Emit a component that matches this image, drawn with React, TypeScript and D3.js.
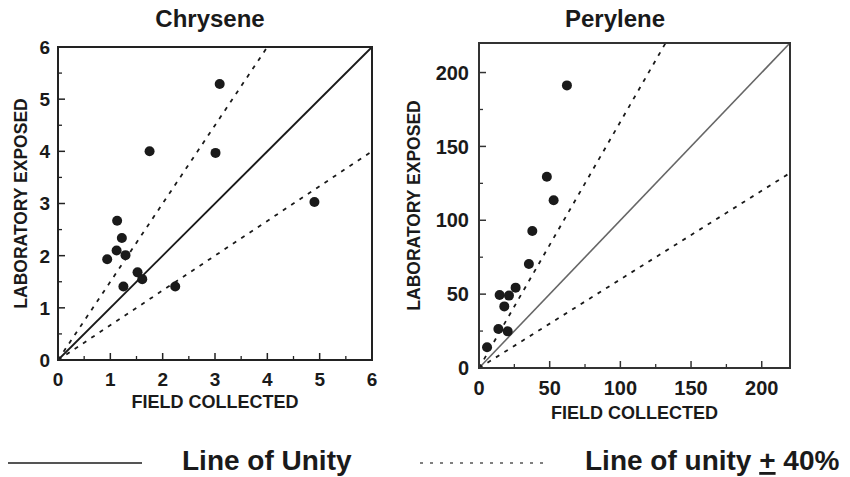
import React from "react";
import * as d3 from "d3";

// ---------- data ----------
const chryseneField = [3.09, 1.75, 3.01, 4.9, 1.13, 1.22, 1.12, 1.29, 0.94, 1.52, 1.61, 1.25, 2.24];
const chryseneLab = [5.29, 4.0, 3.97, 3.03, 2.67, 2.34, 2.1, 2.01, 1.93, 1.68, 1.55, 1.41, 1.41];
const chryseneTicks = [0, 1, 2, 3, 4, 5, 6];
const chryseneMinor = [0.5, 1.5, 2.5, 3.5, 4.5, 5.5];
const chryseneSlopes = [1.5, 1 / 1.5];

const peryleneField = [62.2, 48.0, 52.8, 37.7, 35.3, 25.9, 14.6, 21.2, 17.9, 13.7, 20.3, 5.7];
const peryleneLab = [191.3, 129.5, 113.5, 92.7, 70.4, 54.4, 49.4, 49.0, 41.7, 26.4, 24.8, 14.0];
const peryleneTicks = [0, 50, 100, 150, 200];
const peryleneMinor = [25, 75, 125, 175];
const peryleneSlopes = [1 / 0.6, 0.6];

const FONT = "'Liberation Sans', Arial, Helvetica, sans-serif";

type PanelProps = {
  title: string;
  xs: number[];
  ys: number[];
  max: number;
  ticks: number[];
  minor: number[];
  slopes: number[];
  left: number;
  right: number;
  top: number;
  bottom: number;
  tickFont: number;
  xLabelY: number;
  yLabelGap: number;
  xTitleY: number;
  yTitleX: number;
  titleX: number;
  unityColor: string;
  unityWidth: number;
  frameColor: string;
};

function Panel(p: PanelProps) {
  const x = d3.scaleLinear().domain([0, p.max]).range([p.left, p.right]);
  const y = d3.scaleLinear().domain([0, p.max]).range([p.bottom, p.top]);
  const line = d3
    .line<[number, number]>()
    .x((d) => x(d[0]))
    .y((d) => y(d[1]));
  const [kUp, kLow] = p.slopes;
  const unity: [number, number][] = [
    [0, 0],
    [p.max, p.max],
  ];
  const upper: [number, number][] = [
    [0, 0],
    [p.max / kUp, p.max],
  ];
  const lower: [number, number][] = [
    [0, 0],
    [p.max, p.max * kLow],
  ];
  const midY = (p.top + p.bottom) / 2;
  return (
    <g fontFamily={FONT} fontWeight="bold" fill="#1a1a1a">
      <text x={p.titleX} y={27} fontSize={24} textAnchor="middle">
        {p.title}
      </text>
      {/* lines */}
      <path d={line(unity) || ""} stroke={p.unityColor} strokeWidth={p.unityWidth} fill="none" />
      <path d={line(upper) || ""} stroke="#1a1a1a" strokeWidth={1.8} strokeDasharray="4,6" fill="none" />
      <path d={line(lower) || ""} stroke="#1a1a1a" strokeWidth={1.8} strokeDasharray="4,6" fill="none" />
      {/* ticks */}
      {p.ticks.map((t) => (
        <g key={"t" + t}>
          <line x1={x(t)} x2={x(t)} y1={p.bottom} y2={p.bottom - 7} stroke={p.frameColor} strokeWidth={1.5} />
          <line x1={p.left} x2={p.left + 7} y1={y(t)} y2={y(t)} stroke={p.frameColor} strokeWidth={1.5} />
          <text x={x(t)} y={p.xLabelY} fontSize={p.tickFont} textAnchor="middle">
            {t}
          </text>
          <text x={p.left - p.yLabelGap} y={y(t)} dy="0.36em" fontSize={p.tickFont} textAnchor="end">
            {t}
          </text>
        </g>
      ))}
      {p.minor.map((t) => (
        <g key={"m" + t}>
          <line x1={x(t)} x2={x(t)} y1={p.bottom} y2={p.bottom - 4} stroke={p.frameColor} strokeWidth={1.3} />
          <line x1={p.left} x2={p.left + 4} y1={y(t)} y2={y(t)} stroke={p.frameColor} strokeWidth={1.3} />
        </g>
      ))}
      {/* points */}
      {p.xs.map((v, i) => (
        <circle key={"c" + i} cx={x(v)} cy={y(p.ys[i])} r={5} fill="#1a1a1a" />
      ))}
      {/* frame */}
      <rect
        x={p.left}
        y={p.top}
        width={p.right - p.left}
        height={p.bottom - p.top}
        fill="none"
        stroke={p.frameColor}
        strokeWidth={2}
      />
      <text x={(p.left + p.right) / 2} y={p.xTitleY} fontSize={18} textAnchor="middle">
        FIELD COLLECTED
      </text>
      <text
        transform={`translate(${p.yTitleX},${midY}) rotate(-90)`}
        fontSize={17.5}
        textAnchor="middle"
        dy="0.36em"
      >
        LABORATORY EXPOSED
      </text>
    </g>
  );
}

export default function App() {
  return (
    <svg width={850} height={477} style={{ position: "absolute", left: 0, top: 0, background: "#fff" }}>
      <rect width={850} height={477} fill="#fff" />
      <Panel
        title="Chrysene"
        xs={chryseneField}
        ys={chryseneLab}
        max={6}
        ticks={chryseneTicks}
        minor={chryseneMinor}
        slopes={chryseneSlopes}
        left={58}
        right={372}
        top={47}
        bottom={360}
        tickFont={19}
        xLabelY={386}
        yLabelGap={8}
        xTitleY={408}
        yTitleX={21}
        titleX={210}
        unityColor="#1a1a1a"
        unityWidth={1.8}
        frameColor="#222"
      />
      <Panel
        title="Perylene"
        xs={peryleneField}
        ys={peryleneLab}
        max={220}
        ticks={peryleneTicks}
        minor={peryleneMinor}
        slopes={peryleneSlopes}
        left={479}
        right={790}
        top={43}
        bottom={368}
        tickFont={20}
        xLabelY={395}
        yLabelGap={10}
        xTitleY={419}
        yTitleX={414}
        titleX={615}
        unityColor="#666"
        unityWidth={1.6}
        frameColor="#333"
      />
      {/* legend */}
      <g fontFamily={FONT} fontWeight="bold" fill="#1a1a1a" fontSize={28}>
        <line x1={8} x2={142} y1={463} y2={463} stroke="#555" strokeWidth={2} />
        <text x={182} y={470}>
          Line of Unity
        </text>
        <line x1={420} x2={548} y1={463} y2={463} stroke="#555" strokeWidth={1.5} strokeDasharray="3,7" />
        <text x={585} y={470}>
          Line of unity{" "}
          <tspan textDecoration="underline">+</tspan> 40%
        </text>
      </g>
    </svg>
  );
}
